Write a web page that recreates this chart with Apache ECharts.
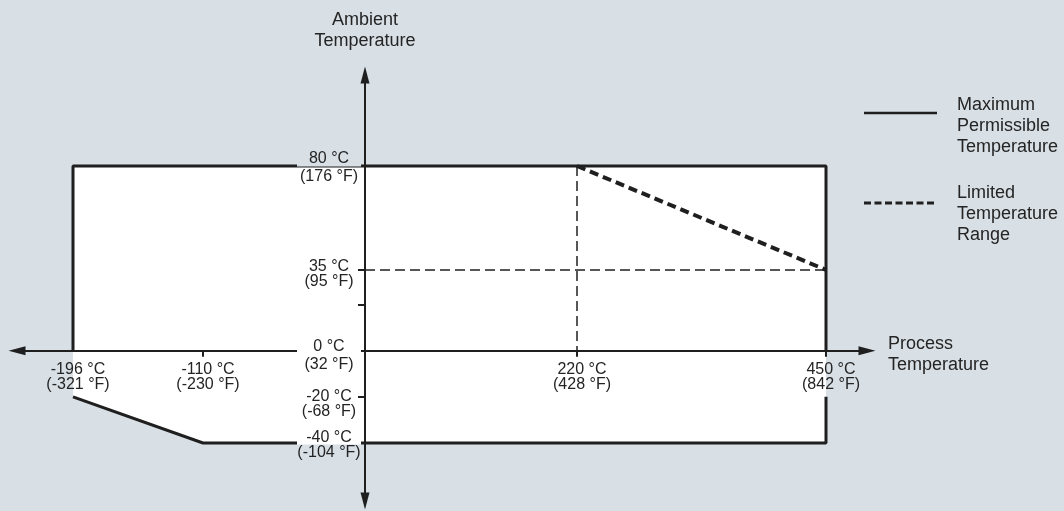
<!DOCTYPE html>
<html>
<head>
<meta charset="utf-8">
<script src="https://cdn.jsdelivr.net/npm/echarts@6.0.0/dist/echarts.min.js"></script>
<style>
  html, body { margin: 0; padding: 0; background: #d8dfe5; }
  #chart { width: 1064px; height: 511px; }
</style>
</head>
<body>
<div id="chart"></div>
<script>
const processTicks = [-196, -110, 0, 220, 450];
const processTicksF = [-321, -230, 32, 428, 842];
const ambientTicks = [80, 35, 0, -20, -40];
const ambientTicksF = [176, 95, 32, -68, -104];
const ambientMinorTicks = [20];
const envelopeProcess = [-196, 450, 450, -110, -196];
const envelopeAmbient = [80, 80, -40, -40, -20];
const limitedProcess = [220, 450];
const limitedAmbient = [80, 35];

// the process axis is schematic (not to scale): distance of each tick from the origin, px
const processAxisPos = [-292, -162, 0, 212, 461];

function procX(t) {
  const n = processTicks.length
  for (let i = 0; i < n - 1; i++) {
    const a = processTicks[i], b = processTicks[i + 1]
    if (t <= b || i === n - 2) return processAxisPos[i] + (t - a) / (b - a) * (processAxisPos[i + 1] - processAxisPos[i])
  }
}

const BG = '#d8dfe5'
const INK = '#1f1f1f'
const TXT = '#242424'
const FONT = '"Liberation Sans", Arial, sans-serif'

const env = envelopeProcess.map((p, i) => [procX(p), envelopeAmbient[i]])
// vertical edges are hidden where the -196 °C / 450 °C labels sit (0 ... -20 °C)
const outlineTop = [[env[4][0], 0], env[0], env[1], [env[1][0], 0]]
const outlineBottom = [[env[2][0], -20], env[2], env[3], env[4]]
const guideV = [[procX(limitedProcess[0]), limitedAmbient[0]], [procX(limitedProcess[0]), 0]]
const guideH = [[0, limitedAmbient[1]], [procX(limitedProcess[1]), limitedAmbient[1]]]
const limited = limitedProcess.map((p, i) => [procX(p), limitedAmbient[i]])

const xLabels = processTicks.map((t, i) => ({
  value: [procX(t), 0],
  label: { formatter: t + ' °C\n(' + processTicksF[i] + ' °F)' }
})).filter((d, i) => processTicks[i] !== 0)

// look of the ambient labels: line height, backgrounds (upper/lower line), vertical shift
const yLook = {
  '80': { lh: 18, bg: [BG, '#fff'], dy: 1.5 },
  '35': { lh: 15, bg: [null, null], dy: 4 },
  '0': { lh: 18, bg: ['#fff', '#fff'], dy: 5 },
  '-20': { lh: 15, bg: [null, null], dy: 7 },
  '-40': { lh: 15, bg: ['#fff', BG], dy: 2 }
}
const yLabels = ambientTicks.map((t, i) => {
  const k = yLook[String(t)]
  return {
    value: [0, t],
    label: {
      offset: [-36, k.dy],
      formatter: '{a|' + t + ' °C}\n{b|(' + ambientTicksF[i] + ' °F)}',
      rich: {
        a: { lineHeight: k.lh, width: 64, align: 'center', backgroundColor: k.bg[0] || 'transparent', fontSize: 16, fontFamily: FONT, color: TXT },
        b: { lineHeight: k.lh, width: 64, align: 'center', backgroundColor: k.bg[1] || 'transparent', fontSize: 16, fontFamily: FONT, color: TXT }
      }
    }
  }
})

const chart = echarts.init(document.getElementById('chart'))
const solid = { color: INK, width: 3 }
const hidden = { color: 'transparent', opacity: 1 }
const nameLine = { fontSize: 18, lineHeight: 21, color: TXT, fontFamily: FONT }

chart.setOption({
  backgroundColor: BG,
  animation: false,
  textStyle: { fontFamily: FONT },
  grid: { left: 17, right: 197, top: 75, bottom: 10, containLabel: false, outerBoundsMode: 'none' },
  xAxis: {
    type: 'value', min: -348, max: 502,
    // small blank first line pushes the two-line name a bit below the axis, as in the original
    name: '{s| }\n{n|Process}\n{n|Temperature}', nameLocation: 'end', nameGap: 21,
    nameTextStyle: {
      align: 'left', verticalAlign: 'middle',
      rich: { s: { fontSize: 8, lineHeight: 8 }, n: nameLine }
    },
    axisLine: { onZero: true, symbol: ['triangle', 'triangle'], symbolSize: [9, 17], lineStyle: { color: INK, width: 2 } },
    axisTick: { show: true, length: 6, customValues: [-110, 220, 450].map(procX), lineStyle: { color: INK, width: 2 } },
    axisLabel: { show: false },
    splitLine: { show: false }
  },
  yAxis: {
    type: 'value', min: -65.13, max: 119.43,
    name: 'Ambient\nTemperature', nameLocation: 'end', nameGap: 23,
    nameTextStyle: { fontSize: 18, lineHeight: 21, color: TXT, align: 'center', verticalAlign: 'bottom' },
    axisLine: { onZero: true, symbol: ['triangle', 'triangle'], symbolSize: [9, 17], lineStyle: { color: INK, width: 2 } },
    axisTick: { show: true, length: 7, customValues: [80, 35].concat(ambientMinorTicks, [-20, -40]), lineStyle: { color: INK, width: 2 } },
    axisLabel: { show: false },
    splitLine: { show: false }
  },
  graphic: [
    { type: 'line', shape: { x1: 864, y1: 113, x2: 937, y2: 113 }, style: { stroke: INK, lineWidth: 2.5 } },
    { type: 'text', x: 957, y: 95, style: { text: 'Maximum\nPermissible\nTemperature', fontSize: 18, lineHeight: 21, fontFamily: FONT, fill: TXT, verticalAlign: 'top' } },
    { type: 'line', shape: { x1: 864, y1: 203, x2: 937, y2: 203 }, style: { stroke: INK, lineWidth: 3, lineDash: [7, 3.5] } },
    { type: 'text', x: 957, y: 183, style: { text: 'Limited\nTemperature\nRange', fontSize: 18, lineHeight: 21, fontFamily: FONT, fill: TXT, verticalAlign: 'top' } }
  ],
  series: [
    {
      type: 'custom', z: -1, silent: true, data: [0],
      renderItem: (params, api) => ({ type: 'polygon', shape: { points: env.map(p => api.coord(p)) }, style: { fill: '#fff' } })
    },
    { type: 'line', data: outlineTop, showSymbol: false, lineStyle: solid, z: 3 },
    { type: 'line', data: outlineBottom, showSymbol: false, lineStyle: solid, z: 3 },
    { type: 'line', data: guideV, showSymbol: false, lineStyle: { color: INK, width: 1.5, type: [10, 5] }, z: 3 },
    { type: 'line', data: guideH, showSymbol: false, lineStyle: { color: INK, width: 1.5, type: [10, 5] }, z: 3 },
    { type: 'line', data: limited, showSymbol: false, lineStyle: { color: INK, width: 4, type: [9, 5] }, z: 4 },
    {
      type: 'scatter', data: xLabels, symbolSize: 1, itemStyle: hidden, z: 5, silent: true,
      label: { show: true, opacity: 1, position: 'inside', offset: [5, 26], align: 'center', verticalAlign: 'middle', fontSize: 16, lineHeight: 15, fontFamily: FONT, color: TXT }
    },
    {
      type: 'scatter', data: yLabels, symbolSize: 1, itemStyle: hidden, z: 5, silent: true,
      label: { show: true, opacity: 1, position: 'inside', align: 'center', verticalAlign: 'middle' }
    }
  ]
})
</script>
</body>
</html>
